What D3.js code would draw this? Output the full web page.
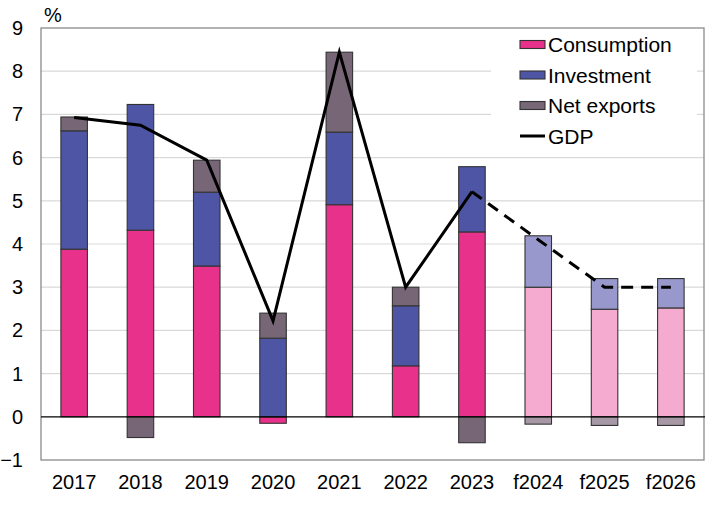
<!DOCTYPE html>
<html>
<head>
<meta charset="utf-8">
<script src="https://cdn.jsdelivr.net/npm/d3@7"></script>
<style>
  html, body { margin: 0; padding: 0; background: #fff; }
  svg { display: block; font-family: "Liberation Sans", Arial, sans-serif; }
</style>
</head>
<body>
<svg id="chart" width="712" height="506"></svg>
<script>
// ---- data ----
const categories = ["2017", "2018", "2019", "2020", "2021", "2022", "2023", "f2024", "f2025", "f2026"];
const forecastFlags = [false, false, false, false, false, false, false, true, true, true];
const consumption = [3.88, 4.32, 3.49, -0.15, 4.91, 1.18, 4.28, 3.00, 2.49, 2.52];
const investment  = [2.74, 2.91, 1.71, 1.82, 1.68, 1.39, 1.51, 1.19, 0.71, 0.68];
const netExports  = [0.32, -0.48, 0.74, 0.58, 1.85, 0.43, -0.60, -0.17, -0.20, -0.20];
const gdp         = [6.93, 6.75, 5.94, 2.22, 8.44, 3.00, 5.21, 4.10, 3.00, 3.00];
const yTicks = [-1, 0, 1, 2, 3, 4, 5, 6, 7, 8, 9];
const seriesNames = ["Consumption", "Investment", "Net exports"];

const colors = {
  "Consumption": "#E8318A",
  "Investment": "#4E55A4",
  "Net exports": "#766676"
};
const colorsForecast = {
  "Consumption": "#F5AAD0",
  "Investment": "#9898CC",
  "Net exports": "#A798A6"
};

(function () {
// ---- layout ----
const svg = d3.select("#chart");
const mLeft = 41, mRight = 704, mTop = 28, mBottom = 460;

const x = d3.scaleBand().domain(categories).range([mLeft, mRight])
  .paddingInner(0.6).paddingOuter(0.3);
const y = d3.scaleLinear().domain([-1, 9]).range([mBottom, mTop]);

// gridlines
svg.append("g").selectAll("line")
  .data(yTicks.filter(t => t > -1 && t < 9 && t !== 0))
  .join("line")
  .attr("x1", mLeft).attr("x2", mRight)
  .attr("y1", d => y(d)).attr("y2", d => y(d))
  .attr("stroke", "#d9d9d9").attr("stroke-width", 1.2);

// legend background (covers gridlines)
svg.append("rect")
  .attr("x", 491).attr("y", mTop + 1)
  .attr("width", 206).attr("height", 124)
  .attr("fill", "#fff");

// plot border
svg.append("rect")
  .attr("x", mLeft).attr("y", mTop)
  .attr("width", mRight - mLeft).attr("height", mBottom - mTop)
  .attr("fill", "none").attr("stroke", "#8a8a8a").attr("stroke-width", 1.3);

// stacked bars
const table = categories.map((c, i) => ({
  cat: c, fc: forecastFlags[i],
  "Consumption": consumption[i],
  "Investment": investment[i],
  "Net exports": netExports[i]
}));
const stack = d3.stack().keys(seriesNames).offset(d3.stackOffsetDiverging);
const stacked = stack(table);

const barG = svg.append("g");
stacked.forEach(layer => {
  barG.append("g").selectAll("rect")
    .data(layer)
    .join("rect")
    .attr("x", d => x(d.data.cat))
    .attr("width", x.bandwidth())
    .attr("y", d => y(Math.max(d[0], d[1])))
    .attr("height", d => Math.abs(y(d[0]) - y(d[1])))
    .attr("fill", d => d.data.fc ? colorsForecast[layer.key] : colors[layer.key])
    .attr("stroke", "#333")
    .attr("stroke-width", 1.1);
});

// zero line
svg.append("line")
  .attr("x1", mLeft).attr("x2", mRight + 1)
  .attr("y1", y(0)).attr("y2", y(0))
  .attr("stroke", "#000").attr("stroke-width", 1.2);

// GDP line
const cx = c => x(c) + x.bandwidth() / 2;
const lineGen = d3.line().x(d => cx(d.cat)).y(d => y(d.v));
const gdpPts = categories.map((c, i) => ({ cat: c, v: gdp[i], fc: forecastFlags[i] }));
const lastActual = forecastFlags.indexOf(true) - 1;
svg.append("path")
  .attr("d", lineGen(gdpPts.slice(0, lastActual + 1)))
  .attr("fill", "none").attr("stroke", "#000").attr("stroke-width", 3);
svg.append("path")
  .attr("d", lineGen(gdpPts.slice(lastActual)))
  .attr("fill", "none").attr("stroke", "#000").attr("stroke-width", 3)
  .attr("stroke-dasharray", "12,8");

// y axis labels
const yAxis = d3.axisLeft(y).tickValues(yTicks).tickSize(0).tickPadding(18)
  .tickFormat(d3.format("d"));
const yg = svg.append("g").attr("transform", `translate(${mLeft},0)`).call(yAxis);
yg.select(".domain").remove();
yg.selectAll("text").attr("font-size", 20).attr("fill", "#000")
  .attr("font-family", "Liberation Sans, Arial, sans-serif");

// x axis labels
const xAxis = d3.axisBottom(x).tickSize(0).tickPadding(15);
const xg = svg.append("g").attr("transform", `translate(0,${mBottom})`).call(xAxis);
xg.select(".domain").remove();
xg.selectAll("text").attr("font-size", 20).attr("fill", "#000")
  .attr("font-family", "Liberation Sans, Arial, sans-serif");

// % label
svg.append("text").attr("x", 44).attr("y", 22).attr("font-size", 20).text("%");

// legend
const legend = svg.append("g");
const legY = [44.5, 75, 105.5, 136];
seriesNames.forEach((s, i) => {
  legend.append("rect")
    .attr("x", 520).attr("y", legY[i] - 4).attr("width", 25).attr("height", 8)
    .attr("fill", colors[s]).attr("stroke", "#333").attr("stroke-width", 1.1);
  legend.append("text")
    .attr("x", 548).attr("y", legY[i]).attr("dy", "0.36em")
    .attr("font-size", 21).text(s);
});
legend.append("line")
  .attr("x1", 520).attr("x2", 545).attr("y1", legY[3]).attr("y2", legY[3])
  .attr("stroke", "#000").attr("stroke-width", 3);
legend.append("text")
  .attr("x", 548).attr("y", legY[3]).attr("dy", "0.36em")
  .attr("font-size", 21).text("GDP");
})();
</script>
</body>
</html>
